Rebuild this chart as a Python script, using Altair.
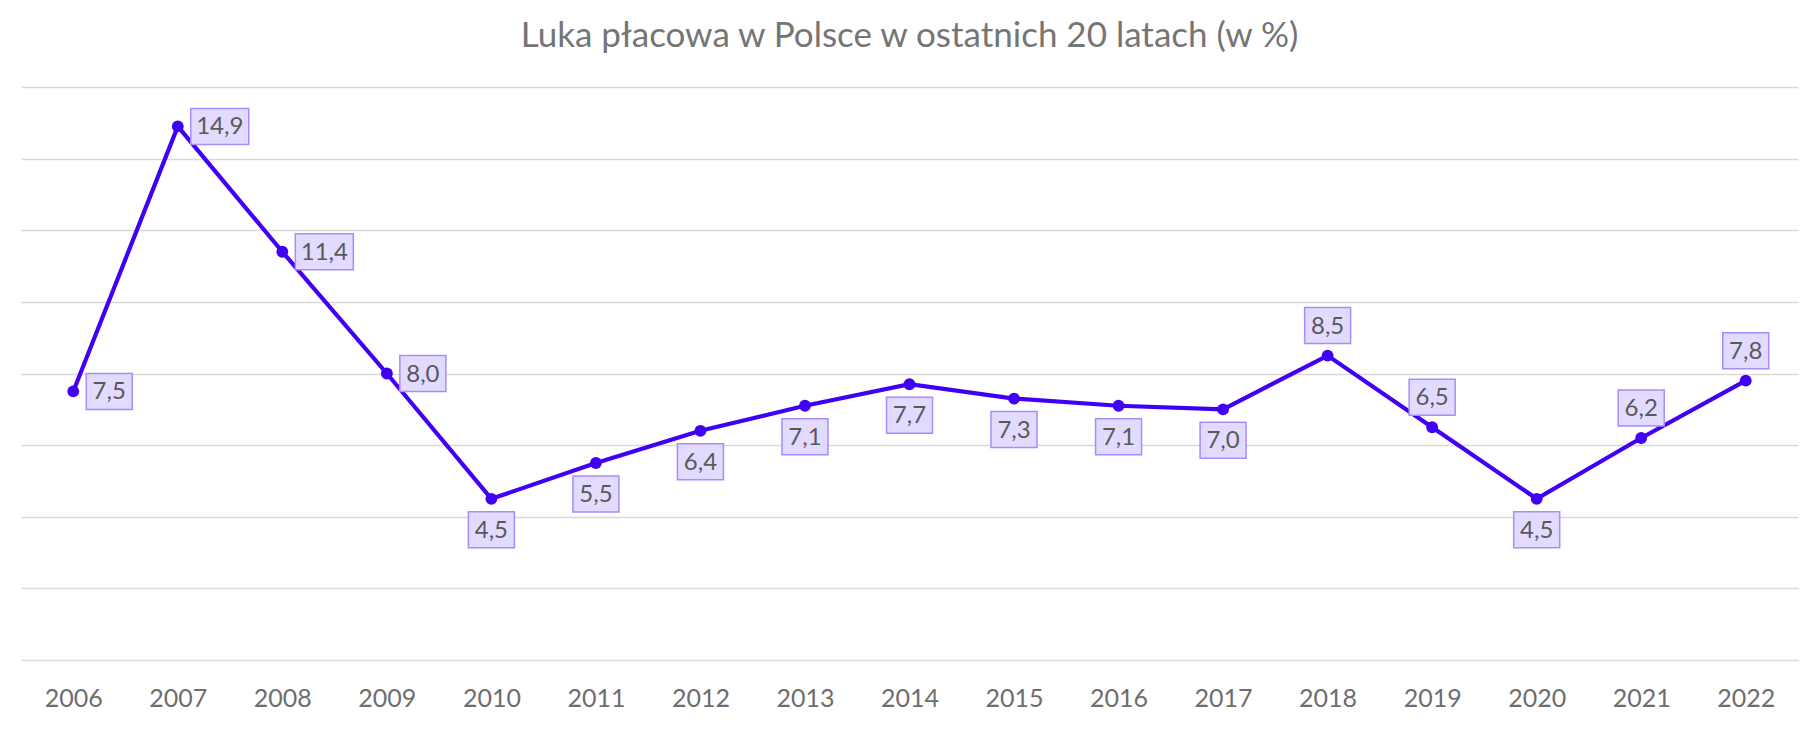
import altair as alt
import pandas as pd

years = ["2006", "2007", "2008", "2009", "2010", "2011", "2012", "2013", "2014",
         "2015", "2016", "2017", "2018", "2019", "2020", "2021", "2022"]
values = [7.5, 14.9, 11.4, 8.0, 4.5, 5.5, 6.4, 7.1, 7.7, 7.3, 7.1, 7.0, 8.5, 6.5, 4.5, 6.2, 7.8]
labels = ["7,5", "14,9", "11,4", "8,0", "4,5", "5,5", "6,4", "7,1", "7,7", "7,3", "7,1",
          "7,0", "8,5", "6,5", "4,5", "6,2", "7,8"]

right_short = ["2006", "2009"]
right_long = ["2007", "2008"]
below = ["2010", "2011", "2012", "2013", "2014", "2015", "2016", "2017", "2020"]
above = ["2018", "2019", "2021", "2022"]

df = pd.DataFrame({"year": years, "value": values, "label": labels})

LINE = "#3f00f5"
BOX_FILL = "#e3dbff"
BOX_STROKE = "#a98bfa"
TEXT = "#595959"
FONT = "Lato"

x_enc = alt.X("year:N", sort=years,
              scale=alt.Scale(type="point", padding=0.5),
              axis=alt.Axis(title=None, labelAngle=0, ticks=False, domain=False,
                            grid=False, labelFontSize=25, labelColor="#6e6e6e",
                            labelFont=FONT, labelPadding=26))
y_enc = alt.Y("value:Q", scale=alt.Scale(domain=[0, 16], nice=False),
              axis=alt.Axis(title=None, values=list(range(0, 17, 2)), labels=False,
                            ticks=False, domain=False, grid=True,
                            gridColor="#d9d9d9", gridWidth=1.5))

base = alt.Chart(df).encode(x=x_enc, y=y_enc)

line = base.mark_line(color=LINE, strokeWidth=4.2)
pts = base.mark_point(filled=True, color=LINE, size=140, opacity=1)


def label_layer(subset, dx, dy, w, h=36):
    b = alt.Chart(df).transform_filter(
        alt.FieldOneOfPredicate(field="year", oneOf=subset)
    ).encode(x=x_enc, y=y_enc)
    rect = b.mark_rect(width=w, height=h, fill=BOX_FILL, stroke=BOX_STROKE,
                       strokeWidth=1.5, xOffset=dx, yOffset=dy)
    txt = b.mark_text(fontSize=24, font=FONT, color=TEXT, xOffset=dx, yOffset=dy + 1,
                      baseline="middle", align="center").encode(text="label:N")
    return [rect, txt]


layers = [line, pts]
layers += label_layer(right_short, 13 + 23, 0, 46)
layers += label_layer(right_long, 13 + 29, 0, 58)
layers += label_layer(below, 0, 31, 46)
layers += label_layer(above, 0, -30, 46)

chart = alt.layer(*layers).properties(
    width=1777, height=573,
    title=alt.TitleParams("Luka płacowa w Polsce w ostatnich 20 latach (w %)",
                          fontSize=35, font=FONT, fontWeight="normal", color="#757575",
                          anchor="middle", baseline="alphabetic", offset=5),
    autosize=alt.AutoSizeParams(type="none"),
    padding={"left": 21, "top": 87, "right": 21, "bottom": 71},
).configure(background="white").configure_view(stroke=None, strokeWidth=0)

chart.save("out.html", embed_options={"renderer": "svg", "actions": False})
